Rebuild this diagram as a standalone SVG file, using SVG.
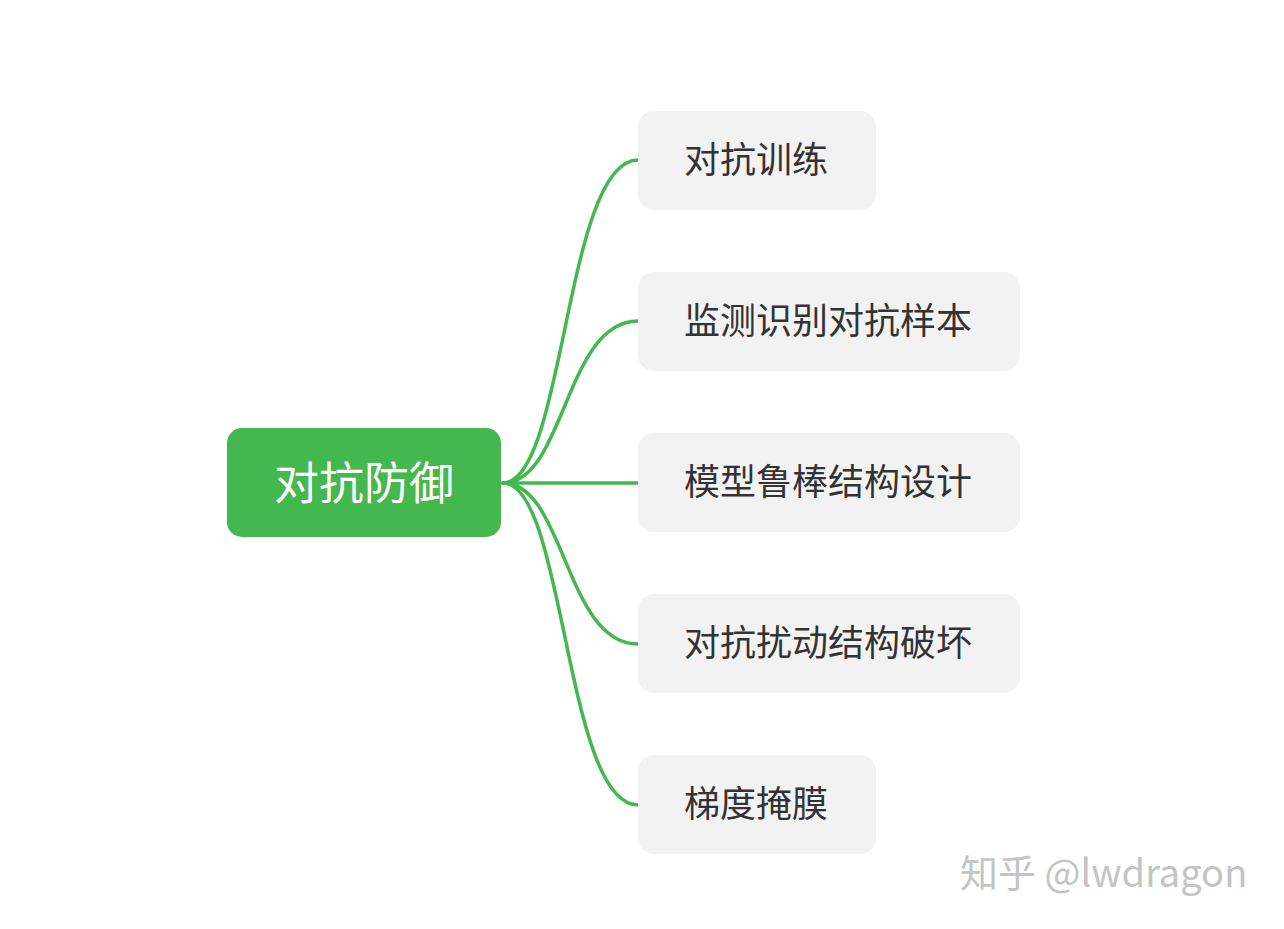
<svg xmlns="http://www.w3.org/2000/svg" width="1284" height="929" viewBox="0 0 1284 929">
<style>
.child rect{fill:#f2f2f3;}
.child text{font-family:"Noto Sans CJK SC","Noto Sans",sans-serif;font-size:36px;fill:#333;dominant-baseline:central;}
.conn path{fill:none;stroke:#45b74f;stroke-width:3.5;stroke-linecap:round;}
</style>
<rect width="1284" height="929" fill="#fff"/>
<g class="conn">
<path d="M503,483 C565,483 565,160 638,160"/>
<path d="M503,483 C565,483 565,321 638,321"/>
<path d="M503,483 L638,483"/>
<path d="M503,483 C565,483 565,644 638,644"/>
<path d="M503,483 C565,483 565,805 638,805"/>
</g>
<g id="root">
<rect x="227" y="428" width="274" height="109" rx="15" fill="#45b74f"/>
<text x="364" y="480" text-anchor="middle" dominant-baseline="central" font-family="Noto Sans CJK SC,Noto Sans,sans-serif" font-size="45" fill="#fff">对抗防御</text>
</g>
<g id="c1" class="child"><rect x="638" y="111" width="238" height="99" rx="16"/><text x="684" y="157">对抗训练</text></g>
<g id="c2" class="child"><rect x="638" y="272" width="382" height="99" rx="16"/><text x="684" y="318">监测识别对抗样本</text></g>
<g id="c3" class="child"><rect x="638" y="433" width="382" height="99" rx="16"/><text x="684" y="479">模型鲁棒结构设计</text></g>
<g id="c4" class="child"><rect x="638" y="594" width="382" height="99" rx="16"/><text x="684" y="640">对抗扰动结构破坏</text></g>
<g id="c5" class="child"><rect x="638" y="755" width="238" height="99" rx="16"/><text x="684" y="801">梯度掩膜</text></g>
<text x="960" y="870" dominant-baseline="central" font-family="Noto Sans CJK SC,Noto Sans,sans-serif" font-size="38" fill="#c4c4c4">知乎 @lwdragon</text>
</svg>
